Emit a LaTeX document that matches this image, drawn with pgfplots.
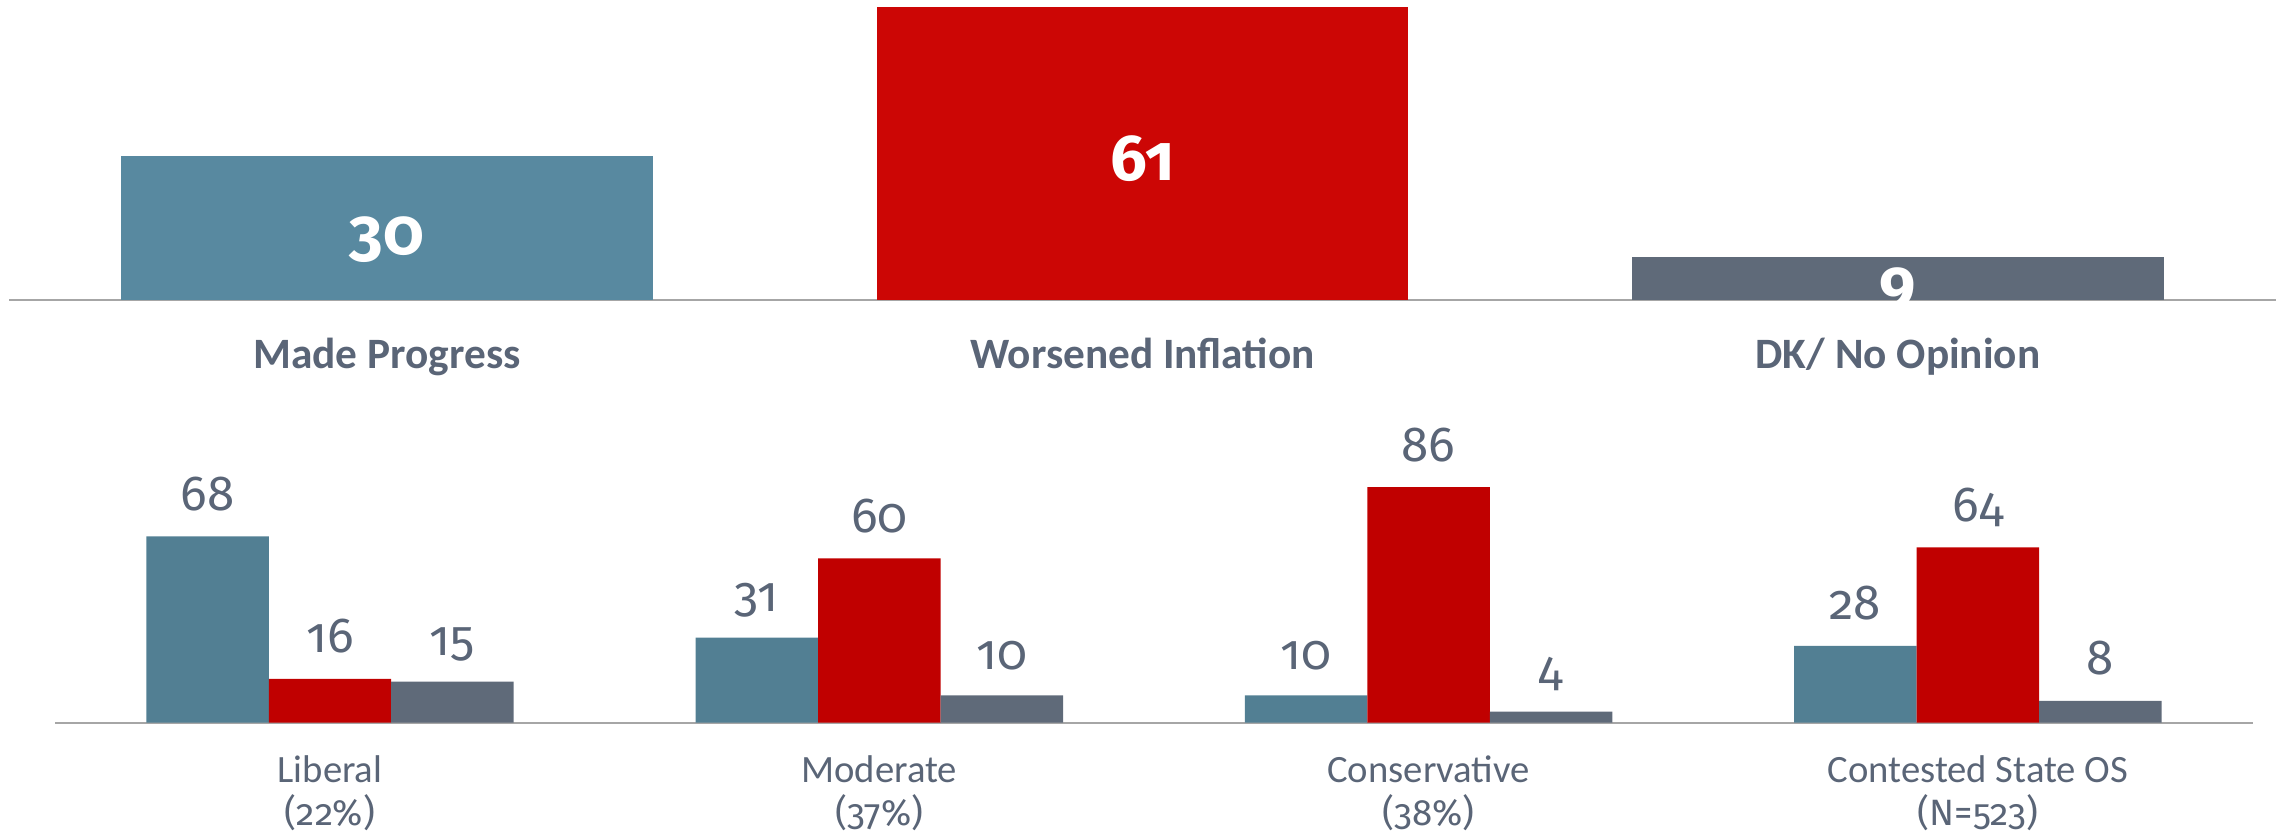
\documentclass[border=0pt]{standalone}
\usepackage{pgfplots}
\pgfplotsset{compat=1.18}
\usepackage{fontspec}
\setmainfont{Carlito}
\newfontfamily\numfont{Fira Sans}[Numbers=OldStyle]
\newcommand\pct[1]{{\numfont\fontsize{11}{12.9}\selectfont #1}}
\definecolor{txt}{HTML}{5A6577}
\definecolor{axgrey}{HTML}{A6A6A6}
\definecolor{topblue}{HTML}{5889A0}
\definecolor{topred}{HTML}{CC0605}
\definecolor{botblue}{HTML}{527F93}
\definecolor{botred}{HTML}{C00000}
\definecolor{dkgrey}{HTML}{5F6A79}
\begin{document}
\begin{tikzpicture}[x=1pt,y=1pt]
\useasboundingbox (0,0) rectangle (686.1,250.5);
% ---------- top chart ----------
\begin{axis}[
  at={(2.775pt,160.5pt)}, anchor=south west,
  scale only axis, width=679.95pt, height=90pt,
  xmin=-0.5, xmax=2.5, ymin=0, ymax=62.5,
  axis x line=bottom, axis y line=none,
  x axis line style={-, draw=axgrey, line width=0.6pt},
  xtick={0,1,2},
  xticklabels={Made Progress, Worsened Inflation, DK/ No Opinion},
  major tick length=0pt,
  xticklabel style={anchor=base, yshift=-20.5pt, font=\fontsize{13}{15}\selectfont\bfseries, text=txt},
  ybar, bar width=0.704, clip=false,
  nodes near coords={\mbox{\numfont\bfseries\fontsize{19.5}{23}\selectfont\pgfmathfloattoint{\pgfplotspointmeta}\pgfmathresult}},
  visualization depends on=y \as \rawy,
  every node near coord/.append style={anchor=base, text=white,
     shift={(axis direction cs:0,-\rawy/2)}, yshift=-8.1pt},
]
\addplot[fill=topblue, draw=none, bar shift=0pt] coordinates {(0,30)};
\addplot[fill=topred, draw=none, bar shift=0pt] coordinates {(1,61)};
\addplot[fill=dkgrey, draw=none, bar shift=0pt] coordinates {(2,9)};
\end{axis}
% ---------- bottom chart ----------
\begin{axis}[
  at={(16.605pt,33.69pt)}, anchor=south west,
  scale only axis, width=659.16pt, height=82.2pt,
  xmin=-0.5, xmax=3.5, ymin=0, ymax=100,
  axis x line=bottom, axis y line=none,
  x axis line style={-, draw=axgrey, line width=0.6pt},
  xtick={0,1,2,3},
  xticklabels={{Liberal\\\pct{(22\%)}}, {Moderate\\\pct{(37\%)}}, {Conservative\\\pct{(38\%)}}, {Contested State OS\\\pct{(N=523)}}},
  major tick length=0pt,
  xticklabel style={align=center, anchor=base, yshift=-30.9pt, font=\fontsize{11.6}{12.9}\selectfont, text=txt},
  ybar=0pt, bar width=0.223, clip=false,
  nodes near coords={\mbox{\numfont\fontsize{14.8}{18}\selectfont\pgfmathfloattoint{\pgfplotspointmeta}\pgfmathresult}},
  every node near coord/.append style={anchor=base, yshift=7.8pt, text=txt},
]
\addplot[fill=botblue, draw=none] coordinates {(0,68) (1,31) (2,10) (3,28)};
\addplot[fill=botred, draw=none] coordinates {(0,16) (1,60) (2,86) (3,64)};
\addplot[fill=dkgrey, draw=none] coordinates {(0,15) (1,10) (2,4) (3,8)};
\end{axis}
\end{tikzpicture}
\end{document}
